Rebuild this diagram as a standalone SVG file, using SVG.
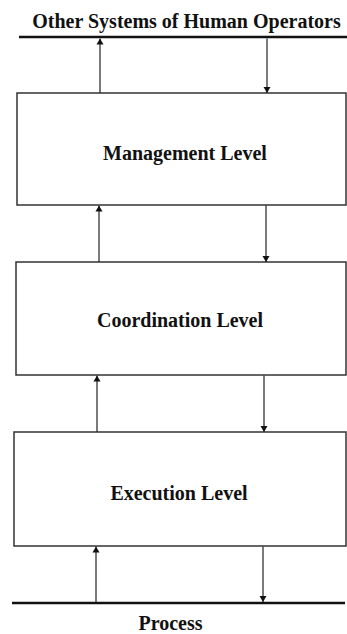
<svg xmlns="http://www.w3.org/2000/svg" width="347" height="634" viewBox="0 0 347 634">
<style>
.box{fill:#fff;stroke:#333;stroke-width:1.5}
.bus{stroke:#111;stroke-width:2.5;fill:none}
.conn{stroke:#222;stroke-width:1.2;fill:none}
.lbl{font-family:"Liberation Serif","Times New Roman",serif;font-weight:bold;font-size:20px;fill:#111;text-anchor:middle}
</style>
<defs>
<marker id="ah" viewBox="0 0 6 10" refX="6" refY="5" markerWidth="6" markerHeight="10" markerUnits="userSpaceOnUse" orient="auto">
<path d="M0,1.5 L6,5 L0,8.5 Z" fill="#111"/>
</marker>
</defs>
<rect width="347" height="634" fill="#fff"/>
<g id="other-systems">
<line class="bus" x1="19" y1="37" x2="347" y2="37"/>
<text class="lbl" x="186.5" y="28">Other Systems of Human Operators</text>
</g>
<g id="management">
<rect class="box" x="17" y="93" width="329" height="112"/>
<text class="lbl" x="185" y="160">Management Level</text>
</g>
<g id="coordination">
<rect class="box" x="16" y="262" width="330" height="113"/>
<text class="lbl" x="180" y="327">Coordination Level</text>
</g>
<g id="execution">
<rect class="box" x="14" y="432" width="332" height="114"/>
<text class="lbl" x="179" y="500">Execution Level</text>
</g>
<g id="process">
<line class="bus" x1="12" y1="603" x2="345" y2="603"/>
<text class="lbl" x="170.5" y="630">Process</text>
</g>
<g id="connectors">
<line class="conn" x1="100" y1="93" x2="100" y2="38.5" marker-end="url(#ah)"/>
<line class="conn" x1="267" y1="38.5" x2="267" y2="93" marker-end="url(#ah)"/>
<line class="conn" x1="99" y1="262" x2="99" y2="205.5" marker-end="url(#ah)"/>
<line class="conn" x1="266" y1="205.5" x2="266" y2="262" marker-end="url(#ah)"/>
<line class="conn" x1="97" y1="432" x2="97" y2="375.5" marker-end="url(#ah)"/>
<line class="conn" x1="264" y1="375.5" x2="264" y2="432" marker-end="url(#ah)"/>
<line class="conn" x1="96" y1="602" x2="96" y2="546.5" marker-end="url(#ah)"/>
<line class="conn" x1="263" y1="546.5" x2="263" y2="602" marker-end="url(#ah)"/>
</g>
</svg>
